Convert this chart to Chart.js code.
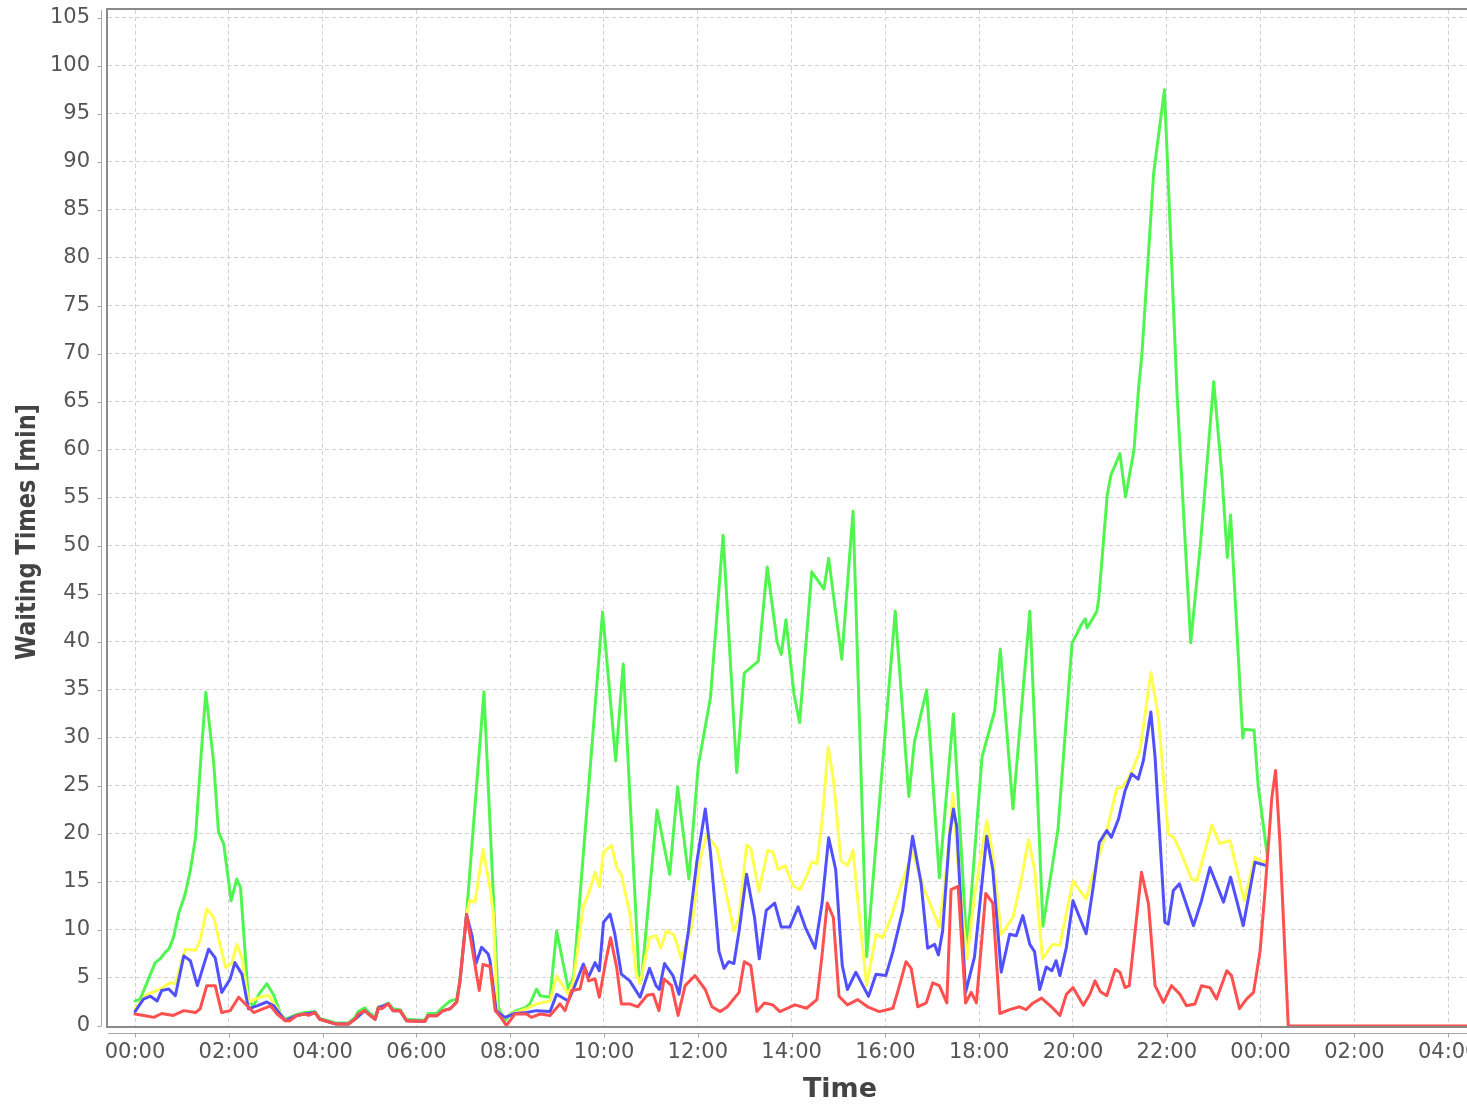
<!DOCTYPE html>
<html>
<head>
<meta charset="utf-8">
<script src="https://cdn.jsdelivr.net/npm/chart.js@4.4.1/dist/chart.umd.min.js"></script>
<style>
  body { margin: 0; background: #fff; }
  #wrap { width: 1467px; height: 1107px; }
</style>
</head>
<body>
<div id="wrap"><canvas id="myChart" width="1467" height="1107"></canvas></div>
<script>
// [hour since midnight, waiting time in minutes]
const green = [
  [0, 2.6], [0.11, 2.8], [0.33, 5.4], [0.43, 6.6], [0.54, 7.0], [0.65, 7.7], [0.72, 8.0], [0.82, 9.2],
  [0.93, 11.7], [1.07, 13.75], [1.18, 16.2], [1.29, 19.6], [1.39, 26.9], [1.51, 34.75], [1.68, 27.3],
  [1.78, 20.2], [1.89, 19.0], [2.05, 13.05], [2.17, 15.3], [2.25, 14.4], [2.42, 2.6], [2.53, 2.1],
  [2.64, 3.3], [2.81, 4.4], [2.96, 3.2], [3.1, 1.3], [3.2, 0.7], [3.45, 1.2], [3.62, 1.4], [3.84, 1.5],
  [3.94, 0.8], [4.08, 0.6], [4.29, 0.3], [4.55, 0.3], [4.69, 0.9], [4.76, 1.5], [4.9, 1.9], [4.97, 1.5],
  [5.12, 0.9], [5.19, 2.0], [5.26, 2.0], [5.4, 2.4], [5.5, 1.8], [5.65, 1.7], [5.79, 0.7], [6.18, 0.6],
  [6.25, 1.3], [6.43, 1.3], [6.57, 2.0], [6.72, 2.6], [6.86, 2.8], [6.93, 4.9], [7.07, 11.7],
  [7.44, 34.8], [7.75, 1.9], [7.89, 0.55], [8.0, 1.25], [8.13, 1.6], [8.32, 1.9], [8.42, 2.3],
  [8.56, 3.85], [8.64, 3.15], [8.85, 3.0], [8.99, 9.9], [9.24, 3.85], [9.35, 5.1], [9.97, 43.1],
  [10.25, 27.6], [10.41, 37.7], [10.75, 4.8], [10.8, 4.8], [11.13, 22.5], [11.4, 15.8], [11.57, 24.9],
  [11.81, 15.3], [12.01, 27.1], [12.27, 34.2], [12.54, 51.1], [12.83, 26.4], [12.99, 36.75],
  [13.29, 38.0], [13.48, 47.8], [13.69, 40.0], [13.78, 38.7], [13.88, 42.3], [14.05, 34.6],
  [14.17, 31.6], [14.43, 47.3], [14.69, 45.5], [14.79, 48.7], [15.07, 38.2], [15.31, 53.6],
  [15.6, 7.2], [16.21, 43.2], [16.5, 23.9], [16.62, 29.6], [16.88, 35.0], [17.15, 15.45],
  [17.45, 32.5], [17.74, 7.9], [18.06, 28.0], [18.33, 32.8], [18.45, 39.25], [18.72, 22.6],
  [19.08, 43.2], [19.36, 10.4], [19.68, 20.5], [19.98, 39.9], [20.09, 40.9], [20.16, 41.65],
  [20.26, 42.4], [20.3, 41.45], [20.51, 43.2], [20.55, 44.5], [20.65, 50.5], [20.73, 55.3],
  [20.81, 57.4], [20.9, 58.4], [21.0, 59.6], [21.12, 55.1], [21.3, 59.95], [21.4, 66.5], [21.47, 70.0],
  [21.72, 88.8], [21.95, 97.5], [22.04, 86.9], [22.22, 65.7], [22.51, 39.9], [22.72, 50.3],
  [23.0, 67.1], [23.18, 57.05], [23.29, 48.8], [23.36, 53.2], [23.62, 30.0], [23.65, 30.9],
  [23.86, 30.8], [23.95, 24.9], [24.15, 17.5]
];

const yellow = [
  [0, 1.8], [0.26, 3.3], [0.54, 3.85], [0.75, 4.5], [0.86, 4.4], [1.07, 8.0], [1.29, 7.9], [1.39, 8.9],
  [1.53, 12.2], [1.68, 11.3], [1.78, 9.2], [1.93, 6.1], [2.06, 6.5], [2.17, 8.5], [2.28, 7.1],
  [2.42, 2.5], [2.67, 3.0], [2.85, 3.2], [3.1, 1.3], [3.2, 0.55], [3.45, 1.1], [3.62, 1.25], [3.84, 1.4],
  [3.94, 0.7], [4.08, 0.5], [4.29, 0.2], [4.55, 0.2], [4.69, 0.7], [4.9, 1.6], [5.12, 0.7], [5.19, 1.9],
  [5.4, 2.3], [5.5, 1.6], [5.65, 1.6], [5.79, 0.55], [6.18, 0.5], [6.25, 1.07], [6.43, 1.07],
  [6.57, 1.6], [6.72, 1.8], [6.86, 2.5], [6.93, 4.8], [7.07, 11.6], [7.14, 13.1], [7.25, 12.9],
  [7.42, 18.4], [7.57, 14.4], [7.64, 11.7], [7.72, 1.6], [7.89, 0.9], [8.1, 1.4], [8.35, 1.8],
  [8.56, 2.3], [8.85, 2.6], [8.99, 5.2], [9.24, 3.3], [9.35, 4.7], [9.56, 12.5], [9.67, 13.75],
  [9.81, 16.0], [9.9, 14.5], [9.99, 18.1], [10.16, 18.8], [10.27, 16.5], [10.37, 15.8], [10.55, 11.7],
  [10.69, 5.4], [10.77, 4.4], [10.97, 9.2], [11.11, 9.4], [11.21, 8.1], [11.33, 9.9], [11.49, 9.5],
  [11.65, 7.0], [11.87, 10.3], [12.05, 17.4], [12.19, 19.9], [12.41, 18.5], [12.77, 9.9],
  [12.88, 11.3], [13.04, 18.85], [13.13, 18.5], [13.3, 14.0], [13.49, 18.3], [13.6, 18.1],
  [13.71, 16.3], [13.86, 16.7], [14.04, 14.55], [14.18, 14.2], [14.32, 15.6], [14.43, 17.1],
  [14.54, 16.9], [14.65, 21.4], [14.78, 29.05], [14.9, 25.3], [15.05, 17.25], [15.19, 16.7],
  [15.31, 18.3], [15.44, 11.7], [15.6, 4.2], [15.8, 9.55], [15.94, 9.2], [16.12, 11.3], [16.33, 14.55],
  [16.58, 18.1], [16.83, 14.2], [16.98, 12.4], [17.15, 10.3], [17.3, 16.3], [17.44, 24.2],
  [17.58, 14.55], [17.74, 7.0], [17.9, 13.5], [18.16, 21.4], [18.29, 17.8], [18.47, 9.55],
  [18.72, 11.3], [18.9, 15.3], [19.05, 19.4], [19.18, 16.3], [19.35, 7.0], [19.56, 8.5], [19.72, 8.4],
  [20.0, 15.1], [20.28, 13.2], [20.43, 15.8], [20.72, 20.35], [20.93, 24.7], [21.06, 24.9],
  [21.25, 26.4], [21.43, 28.7], [21.66, 36.8], [21.82, 32.2], [22.03, 20.0], [22.14, 19.65],
  [22.28, 18.3], [22.53, 15.3], [22.64, 15.1], [22.96, 20.9], [23.13, 19.0], [23.35, 19.3],
  [23.65, 13.05], [23.88, 17.6], [24.02, 17.05], [24.13, 17.2]
];

const blue = [
  [0, 1.5], [0.18, 2.8], [0.33, 3.1], [0.47, 2.6], [0.57, 3.7], [0.72, 3.85], [0.86, 3.15], [1.04, 7.3],
  [1.18, 6.8], [1.33, 4.2], [1.57, 8.0], [1.71, 7.1], [1.85, 3.5], [2.03, 4.9], [2.13, 6.6], [2.28, 5.4],
  [2.42, 1.8], [2.6, 2.1], [2.81, 2.5], [2.96, 2.1], [3.1, 1.2], [3.2, 0.55], [3.45, 1.1], [3.62, 1.25],
  [3.84, 1.4], [3.94, 0.7], [4.08, 0.5], [4.29, 0.2], [4.55, 0.2], [4.69, 0.7], [4.9, 1.6], [5.12, 0.7],
  [5.19, 1.9], [5.4, 2.3], [5.5, 1.6], [5.65, 1.6], [5.79, 0.55], [6.18, 0.5], [6.25, 1.07],
  [6.43, 1.07], [6.57, 1.6], [6.72, 1.8], [6.86, 2.5], [6.93, 4.7], [7.07, 11.6], [7.19, 9.3],
  [7.27, 6.5], [7.39, 8.2], [7.53, 7.5], [7.57, 6.8], [7.7, 1.6], [7.89, 0.9], [8.1, 1.3], [8.35, 1.4],
  [8.56, 1.6], [8.85, 1.5], [8.99, 3.3], [9.24, 2.6], [9.35, 3.85], [9.56, 6.45], [9.67, 5.1],
  [9.81, 6.6], [9.9, 5.75], [9.99, 10.8], [10.13, 11.65], [10.23, 9.6], [10.37, 5.4], [10.55, 4.7],
  [10.77, 3.0], [10.97, 6.0], [11.11, 4.2], [11.18, 3.8], [11.29, 6.5], [11.47, 5.25], [11.6, 3.3],
  [11.8, 9.9], [11.98, 17.1], [12.16, 22.6], [12.27, 18.1], [12.45, 7.8], [12.56, 6.0], [12.66, 6.7],
  [12.77, 6.5], [12.88, 9.9], [13.04, 15.8], [13.21, 11.3], [13.31, 7.0], [13.46, 12.05],
  [13.64, 12.8], [13.78, 10.3], [13.96, 10.3], [14.14, 12.4], [14.29, 10.3], [14.5, 8.1],
  [14.65, 12.8], [14.79, 19.6], [14.94, 16.3], [15.08, 6.3], [15.19, 3.8], [15.37, 5.6], [15.52, 4.2],
  [15.64, 3.1], [15.8, 5.4], [16.01, 5.25], [16.16, 7.75], [16.37, 12.05], [16.58, 19.75],
  [16.76, 14.9], [16.9, 8.1], [17.05, 8.5], [17.13, 7.4], [17.22, 9.9], [17.37, 19.9], [17.45, 22.6],
  [17.52, 20.8], [17.71, 3.5], [17.9, 7.2], [18.16, 19.75], [18.29, 16.3], [18.47, 5.6], [18.65, 9.55],
  [18.79, 9.4], [18.93, 11.5], [19.08, 8.5], [19.18, 7.75], [19.29, 3.8], [19.43, 6.15], [19.55, 5.75],
  [19.64, 6.8], [19.72, 5.25], [19.86, 8.2], [20.0, 13.05], [20.28, 9.6], [20.43, 14.45], [20.56, 19.1],
  [20.72, 20.35], [20.82, 19.65], [20.97, 21.55], [21.11, 24.5], [21.25, 26.25], [21.39, 25.7],
  [21.5, 27.6], [21.66, 32.7], [21.75, 28.0], [21.96, 10.8], [22.03, 10.6], [22.14, 14.1],
  [22.27, 14.8], [22.57, 10.45], [22.74, 13.05], [22.92, 16.5], [23.21, 12.9], [23.36, 15.5],
  [23.63, 10.45], [23.88, 17.05], [24.13, 16.7]
];

const red = [
  [0, 1.25], [0.22, 1.07], [0.4, 0.9], [0.57, 1.3], [0.82, 1.1], [1.04, 1.6], [1.29, 1.4], [1.39, 1.8],
  [1.53, 4.2], [1.71, 4.2], [1.85, 1.4], [2.03, 1.6], [2.21, 3.0], [2.31, 2.5], [2.53, 1.4], [2.74, 1.8],
  [2.89, 2.1], [3.03, 1.25], [3.2, 0.55], [3.3, 0.55], [3.45, 1.1], [3.62, 1.25], [3.7, 1.1],
  [3.84, 1.4], [3.94, 0.7], [4.08, 0.5], [4.29, 0.2], [4.55, 0.2], [4.69, 0.7], [4.76, 1.25], [4.9, 1.6],
  [4.97, 1.25], [5.12, 0.7], [5.19, 1.9], [5.26, 1.8], [5.4, 2.3], [5.5, 1.6], [5.65, 1.6], [5.79, 0.55],
  [6.0, 0.5], [6.18, 0.5], [6.25, 1.07], [6.43, 1.07], [6.57, 1.6], [6.72, 1.8], [6.86, 2.5],
  [6.93, 4.7], [7.07, 11.6], [7.21, 7.5], [7.34, 3.7], [7.42, 6.4], [7.57, 6.2], [7.68, 1.6],
  [7.8, 0.9], [7.92, 0.05], [8.1, 1.25], [8.35, 1.25], [8.45, 0.9], [8.64, 1.25], [8.85, 1.1],
  [9.06, 2.3], [9.17, 1.6], [9.31, 3.7], [9.49, 3.85], [9.59, 6.1], [9.67, 4.7], [9.81, 4.9], [9.9, 3.0],
  [10.04, 6.8], [10.14, 9.2], [10.27, 6.1], [10.37, 2.3], [10.55, 2.3], [10.72, 2.0], [10.92, 3.2],
  [11.05, 3.3], [11.17, 1.6], [11.28, 4.9], [11.44, 4.2], [11.58, 1.1], [11.73, 4.2], [11.94, 5.25],
  [12.16, 3.8], [12.3, 2.0], [12.48, 1.5], [12.63, 2.0], [12.88, 3.5], [12.99, 6.7], [13.13, 6.3],
  [13.26, 1.5], [13.42, 2.4], [13.6, 2.2], [13.75, 1.5], [14.07, 2.2], [14.32, 1.85], [14.54, 2.75],
  [14.65, 7.4], [14.76, 12.8], [14.89, 11.3], [15.01, 3.1], [15.19, 2.2], [15.41, 2.75], [15.62, 2.0],
  [15.87, 1.5], [16.16, 1.85], [16.3, 4.2], [16.44, 6.7], [16.55, 6.0], [16.69, 2.0], [16.87, 2.4],
  [17.01, 4.5], [17.15, 4.2], [17.31, 2.4], [17.4, 14.2], [17.55, 14.55], [17.71, 2.4], [17.83, 3.5],
  [17.94, 2.4], [18.14, 13.8], [18.29, 12.8], [18.44, 1.3], [18.65, 1.7], [18.86, 2.0], [19.0, 1.7],
  [19.15, 2.4], [19.33, 2.9], [19.54, 2.0], [19.72, 1.1], [19.86, 3.3], [20.0, 4.0], [20.22, 2.15],
  [20.36, 3.3], [20.47, 4.7], [20.58, 3.6], [20.72, 3.15], [20.9, 5.9], [21.0, 5.6], [21.11, 4.0],
  [21.2, 4.2], [21.46, 16.0], [21.61, 12.7], [21.75, 4.2], [21.93, 2.45], [22.1, 4.2], [22.28, 3.3],
  [22.42, 2.1], [22.6, 2.3], [22.74, 4.2], [22.92, 4.0], [23.06, 2.8], [23.28, 5.75], [23.38, 5.25],
  [23.55, 1.8], [23.7, 2.8], [23.85, 3.5], [23.99, 7.85], [24.09, 13.75], [24.24, 23.8], [24.32, 26.6],
  [24.41, 19.3], [24.59, 0], [29, 0]
];

const xTicks = [0, 2, 4, 6, 8, 10, 12, 14, 16, 18, 20, 22, 24, 26, 28];
const yTicks = [0, 5, 10, 15, 20, 25, 30, 35, 40, 45, 50, 55, 60, 65, 70, 75, 80, 85, 90, 95, 100, 105];
const xTitle = 'Time';
const yTitle = 'Waiting Times [min]';

function toPoints(pairs) {
  return pairs.map(p => ({x: p[0], y: p[1]}))
}

function hourLabel(v) {
  let h = ((v % 24) + 24) % 24
  return String(h).padStart(2, '0') + ':00'
}

// plot outline, axis lines with tick marks, axis titles
const frame = {
  id: 'frame',
  beforeDatasetsDraw(chart) {
    const {ctx, chartArea: a} = chart
    ctx.save()
    ctx.strokeStyle = '#8a8a8a'
    ctx.lineWidth = 2
    ctx.beginPath()
    ctx.moveTo(a.right, a.top - 1)
    ctx.lineTo(a.left - 1, a.top - 1)
    ctx.lineTo(a.left - 1, a.bottom + 1)
    ctx.lineTo(a.right, a.bottom + 1)
    ctx.stroke()
    ctx.restore()
  },
  afterDraw(chart) {
    const {ctx, chartArea: a, scales} = chart
    ctx.save()
    ctx.strokeStyle = '#a8a8a8'
    ctx.lineWidth = 1
    ctx.beginPath()
    ctx.moveTo(a.left - 6.5, a.top)
    ctx.lineTo(a.left - 6.5, a.bottom)
    ctx.moveTo(a.left, a.bottom + 7.5)
    ctx.lineTo(a.right, a.bottom + 7.5)
    yTicks.forEach(v => {
      let y = Math.round(scales.y.getPixelForValue(v)) + 0.5
      ctx.moveTo(a.left - 10.5, y)
      ctx.lineTo(a.left - 6.5, y)
    })
    xTicks.forEach(v => {
      let x = Math.round(scales.x.getPixelForValue(v)) + 0.5
      ctx.moveTo(x, a.bottom + 7.5)
      ctx.lineTo(x, a.bottom + 11.5)
    })
    ctx.stroke()

    ctx.fillStyle = '#444'
    ctx.font = 'bold 27px "DejaVu Sans"'
    ctx.textAlign = 'center'
    ctx.textBaseline = 'alphabetic'
    ctx.fillText(xTitle, 840, 1097)

    ctx.translate(35, 532)
    ctx.rotate(-Math.PI / 2)
    let w = ctx.measureText(yTitle).width
    ctx.scale(256 / w, 1)
    ctx.fillText(yTitle, 0, 0)
    ctx.restore()
  }
}

const line = (label, pairs, color) => ({
  label: label,
  data: toPoints(pairs),
  borderColor: color,
  borderWidth: 3,
  borderJoinStyle: 'round',
  borderCapStyle: 'round',
  pointRadius: 0,
  tension: 0,
  fill: false
})

const ctx = document.getElementById('myChart')
const myChart = new Chart(ctx, {
  type: 'line',
  data: {
    datasets: [
      line('red', red, '#ff5050'),
      line('blue', blue, '#5050ff'),
      line('yellow', yellow, '#ffff50'),
      line('green', green, '#50f550')
    ]
  },
  options: {
    responsive: false,
    animation: false,
    layout: {padding: {top: 10, left: 0, right: 0, bottom: 0}},
    plugins: {legend: {display: false}, tooltip: {enabled: false}},
    scales: {
      x: {
        type: 'linear',
        min: -0.5757,
        max: 28.401,
        afterBuildTicks: s => { s.ticks = xTicks.map(v => ({value: v})) },
        afterFit: s => { s.height = 81; s.paddingLeft = 0; s.paddingRight = 0 },
        grid: {color: '#d2d2d2', lineWidth: 1, drawTicks: false},
        border: {display: false, dash: [4, 3]},
        ticks: {
          autoSkip: false,
          maxRotation: 0,
          padding: 14,
          color: '#555',
          font: {family: 'DejaVu Sans', size: 21},
          callback: v => hourLabel(v)
        }
      },
      y: {
        type: 'linear',
        min: 0,
        max: 105.8,
        afterBuildTicks: s => { s.ticks = yTicks.map(v => ({value: v})) },
        afterFit: s => { s.width = 108; s.paddingTop = 0; s.paddingBottom = 0 },
        grid: {color: '#d2d2d2', lineWidth: 1, drawTicks: false},
        border: {display: false, dash: [4, 3]},
        ticks: {
          padding: 18,
          color: '#555',
          font: {family: 'DejaVu Sans', size: 21},
          callback: v => String(v)
        }
      }
    }
  },
  plugins: [frame]
})
</script>
</body>
</html>
